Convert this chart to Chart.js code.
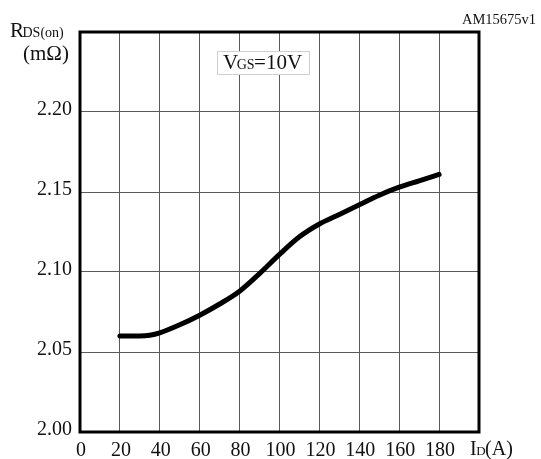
<!DOCTYPE html>
<html>
<head>
<meta charset="utf-8">
<script src="https://cdn.jsdelivr.net/npm/chart.js@4"></script>
<style>
  html, body { margin: 0; padding: 0; background: #fff; }
  #wrap { width: 541px; height: 459px; position: relative; }
</style>
</head>
<body>
<div id="wrap"><canvas id="c" width="541" height="459"></canvas></div>
<script>
const drainCurrent = [20, 25, 30, 35, 40, 50, 60, 70, 80, 90, 100, 110, 120, 130, 140, 150, 160, 170, 180];
const rdsOn = [2.060, 2.060, 2.060, 2.0605, 2.062, 2.067, 2.073, 2.080, 2.088, 2.099, 2.111, 2.122, 2.130, 2.136, 2.142, 2.148, 2.153, 2.157, 2.161];
const xTicks = [0, 20, 40, 60, 80, 100, 120, 140, 160, 180];
const yTicks = ['2.00', '2.05', '2.10', '2.15', '2.20'];

const SERIF = '"Liberation Serif", "DejaVu Serif", serif';

const overlay = {
  id: 'overlay',
  beforeDatasetsDraw(chart) {
    const ctx = chart.ctx;
    // VGS box
    ctx.save();
    ctx.fillStyle = '#fff';
    ctx.fillRect(217, 51, 93, 24);
    ctx.strokeStyle = '#d0d0d0';
    ctx.lineWidth = 1;
    ctx.strokeRect(217.5, 51.5, 92, 23);
    ctx.fillStyle = '#111';
    ctx.textBaseline = 'alphabetic';
    ctx.textAlign = 'left';
    let x = 223, base = 69;
    ctx.font = '21px ' + SERIF; ctx.fillText('V', x, base); x += ctx.measureText('V').width - 1.5;
    ctx.font = '14px ' + SERIF; ctx.fillText('GS', x, base); x += ctx.measureText('GS').width - 0.5;
    ctx.font = '21px ' + SERIF; ctx.fillText('=10V', x, base);
    ctx.restore();
  },
  afterDatasetsDraw(chart) {
    const ctx = chart.ctx;
    const a = chart.chartArea;
    ctx.save();
    ctx.strokeStyle = '#000';
    ctx.lineWidth = 3;
    ctx.strokeRect(a.left, a.top, a.right - a.left, a.bottom - a.top);
    ctx.fillStyle = '#111';
    ctx.textBaseline = 'alphabetic';
    ctx.textAlign = 'left';
    // Y title
    let x = 10, base = 37;
    ctx.font = '21px ' + SERIF; ctx.fillText('R', x, base); x += ctx.measureText('R').width - 1.5;
    ctx.font = '14px ' + SERIF; ctx.fillText('DS(on)', x, base);
    ctx.font = '21px ' + SERIF; ctx.fillText('(m\u03A9)', 23, 60);
    // X title
    x = 470; base = 455;
    ctx.font = '20px ' + SERIF; ctx.fillText('I', x, base); x += ctx.measureText('I').width - 0.5;
    ctx.font = '13px ' + SERIF; ctx.fillText('D', x, base); x += ctx.measureText('D').width - 0.5;
    ctx.font = '20px ' + SERIF; ctx.fillText('(A)', x, base);
    // code
    ctx.font = '14.5px ' + SERIF;
    ctx.fillText('AM15675v1', 462, 24);
    ctx.restore();
  }
};

new Chart(document.getElementById('c'), {
  type: 'line',
  data: {
    datasets: [{
      data: drainCurrent.map((v, i) => ({ x: v, y: rdsOn[i] })),
      borderColor: '#000',
      borderWidth: 5,
      borderCapStyle: 'round',
      borderJoinStyle: 'round',
      pointRadius: 0,
      fill: false,
      cubicInterpolationMode: 'monotone'
    }]
  },
  options: {
    responsive: false,
    animation: false,
    devicePixelRatio: 1,
    layout: { padding: { top: 32, right: 62, left: 0, bottom: 0 } },
    plugins: { legend: { display: false }, tooltip: { enabled: false } },
    scales: {
      x: {
        type: 'linear',
        min: 0, max: 200,
        afterBuildTicks(scale) { scale.ticks = [...xTicks, 200].map(v => ({ value: v })); },
        afterFit(scale) { scale.height = 27; },
        grid: { color: '#5a5a5a', lineWidth: 1, drawTicks: false },
        border: { display: false },
        ticks: {
          color: '#111',
          font: { family: SERIF, size: 20 },
          padding: 7,
          labelOffset: 1,
          maxRotation: 0,
          autoSkip: false,
          callback: (v) => xTicks.includes(v) ? String(v) : ''
        }
      },
      y: {
        type: 'linear',
        min: 2.00, max: 2.25,
        afterBuildTicks(scale) { scale.ticks = [...yTicks.map(Number), 2.25].map(v => ({ value: v })); },
        afterFit(scale) { scale.width = 80; },
        grid: { color: '#5a5a5a', lineWidth: 1, drawTicks: false },
        border: { display: false },
        ticks: {
          color: '#111',
          font: { family: SERIF, size: 20 },
          padding: 8,
          labelOffset: -2,
          autoSkip: false,
          callback: (v) => {
            const s = Number(v).toFixed(2);
            return yTicks.includes(s) ? s : '';
          }
        }
      }
    }
  },
  plugins: [overlay]
});
</script>
</body>
</html>
